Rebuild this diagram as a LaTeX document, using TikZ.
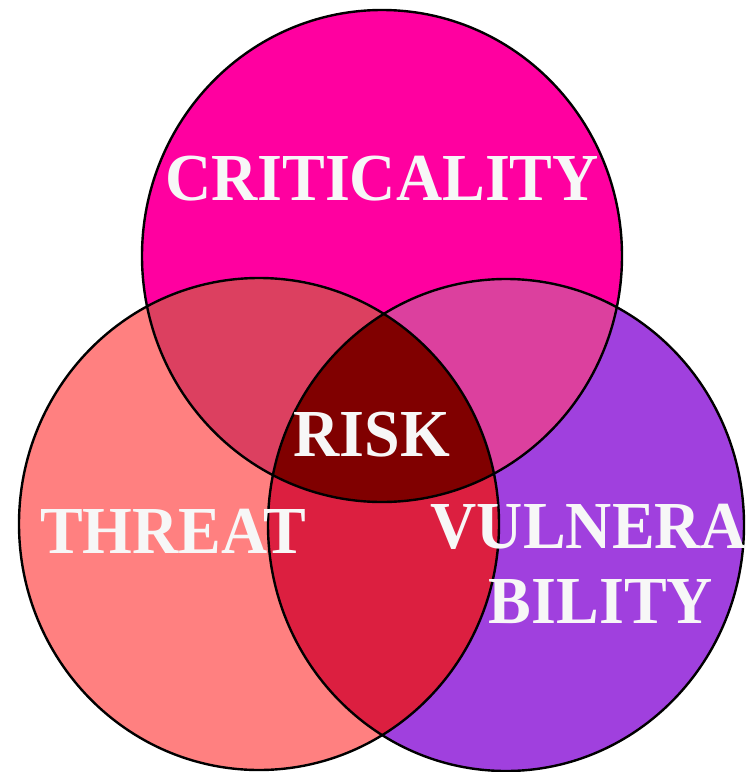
\documentclass[tikz,border=0pt]{standalone}
\usepackage{fontspec}
\setmainfont{Liberation Serif}
\usepackage{graphicx}
\usepackage{tikz}
\usetikzlibrary{positioning}
\definecolor{critfill}{HTML}{FF00A0}
\definecolor{threatfill}{HTML}{FF8080}
\definecolor{vulnfill}{HTML}{A040DE}
\definecolor{ctfill}{HTML}{DC4060}
\definecolor{cvfill}{HTML}{DC409E}
\definecolor{tvfill}{HTML}{DC1F40}
\definecolor{riskfill}{HTML}{800000}
\tikzset{
  ring/.style   = {draw=black, line width=1.8pt},
  setlbl/.style = {font=\fontsize{48}{52}\selectfont\bfseries, text=white!97!black, anchor=base, inner sep=0pt},
}
\newcommand{\critpath}{(382,256) ellipse [x radius=240, y radius=246]}
\newcommand{\threatpath}{(259,524) ellipse [x radius=240, y radius=246]}
\newcommand{\vulnpath}{(506,525) ellipse [x radius=238, y radius=246]}
\newcommand{\tall}[1]{\scalebox{1}[1.05]{#1}}

\begin{document}
\begin{tikzpicture}[x=0.75pt,y=-0.75pt]
  \useasboundingbox (0,0) rectangle (752,772);

  % the three sets
  \fill[critfill] \critpath;
  \fill[threatfill] \threatpath;
  \fill[vulnfill] \vulnpath;

  % pairwise overlaps
  \begin{scope}
    \clip \critpath;
    \fill[ctfill] \threatpath;
    \fill[cvfill] \vulnpath;
  \end{scope}
  \begin{scope}
    \clip \threatpath;
    \fill[tvfill] \vulnpath;
  \end{scope}

  % all three
  \begin{scope}
    \clip \critpath;
    \clip \threatpath;
    \fill[riskfill] \vulnpath;
  \end{scope}

  % outlines
  \draw[ring] \critpath;
  \draw[ring] \threatpath;
  \draw[ring] \vulnpath;

  % labels
  \node[setlbl] (crit) at (382,200) {\tall{CRITICALITY}};
  \node[setlbl] (threat) at (173,553) {\tall{THREAT}};
  \node[setlbl] (vulna) at (589,548) {\tall{VULNERA}};
  \node[setlbl] (vulnb) at (601,623) {\tall{BILITY}};
  \node[setlbl] (risk) at (372,456) {\tall{RISK}};
\end{tikzpicture}
\end{document}
